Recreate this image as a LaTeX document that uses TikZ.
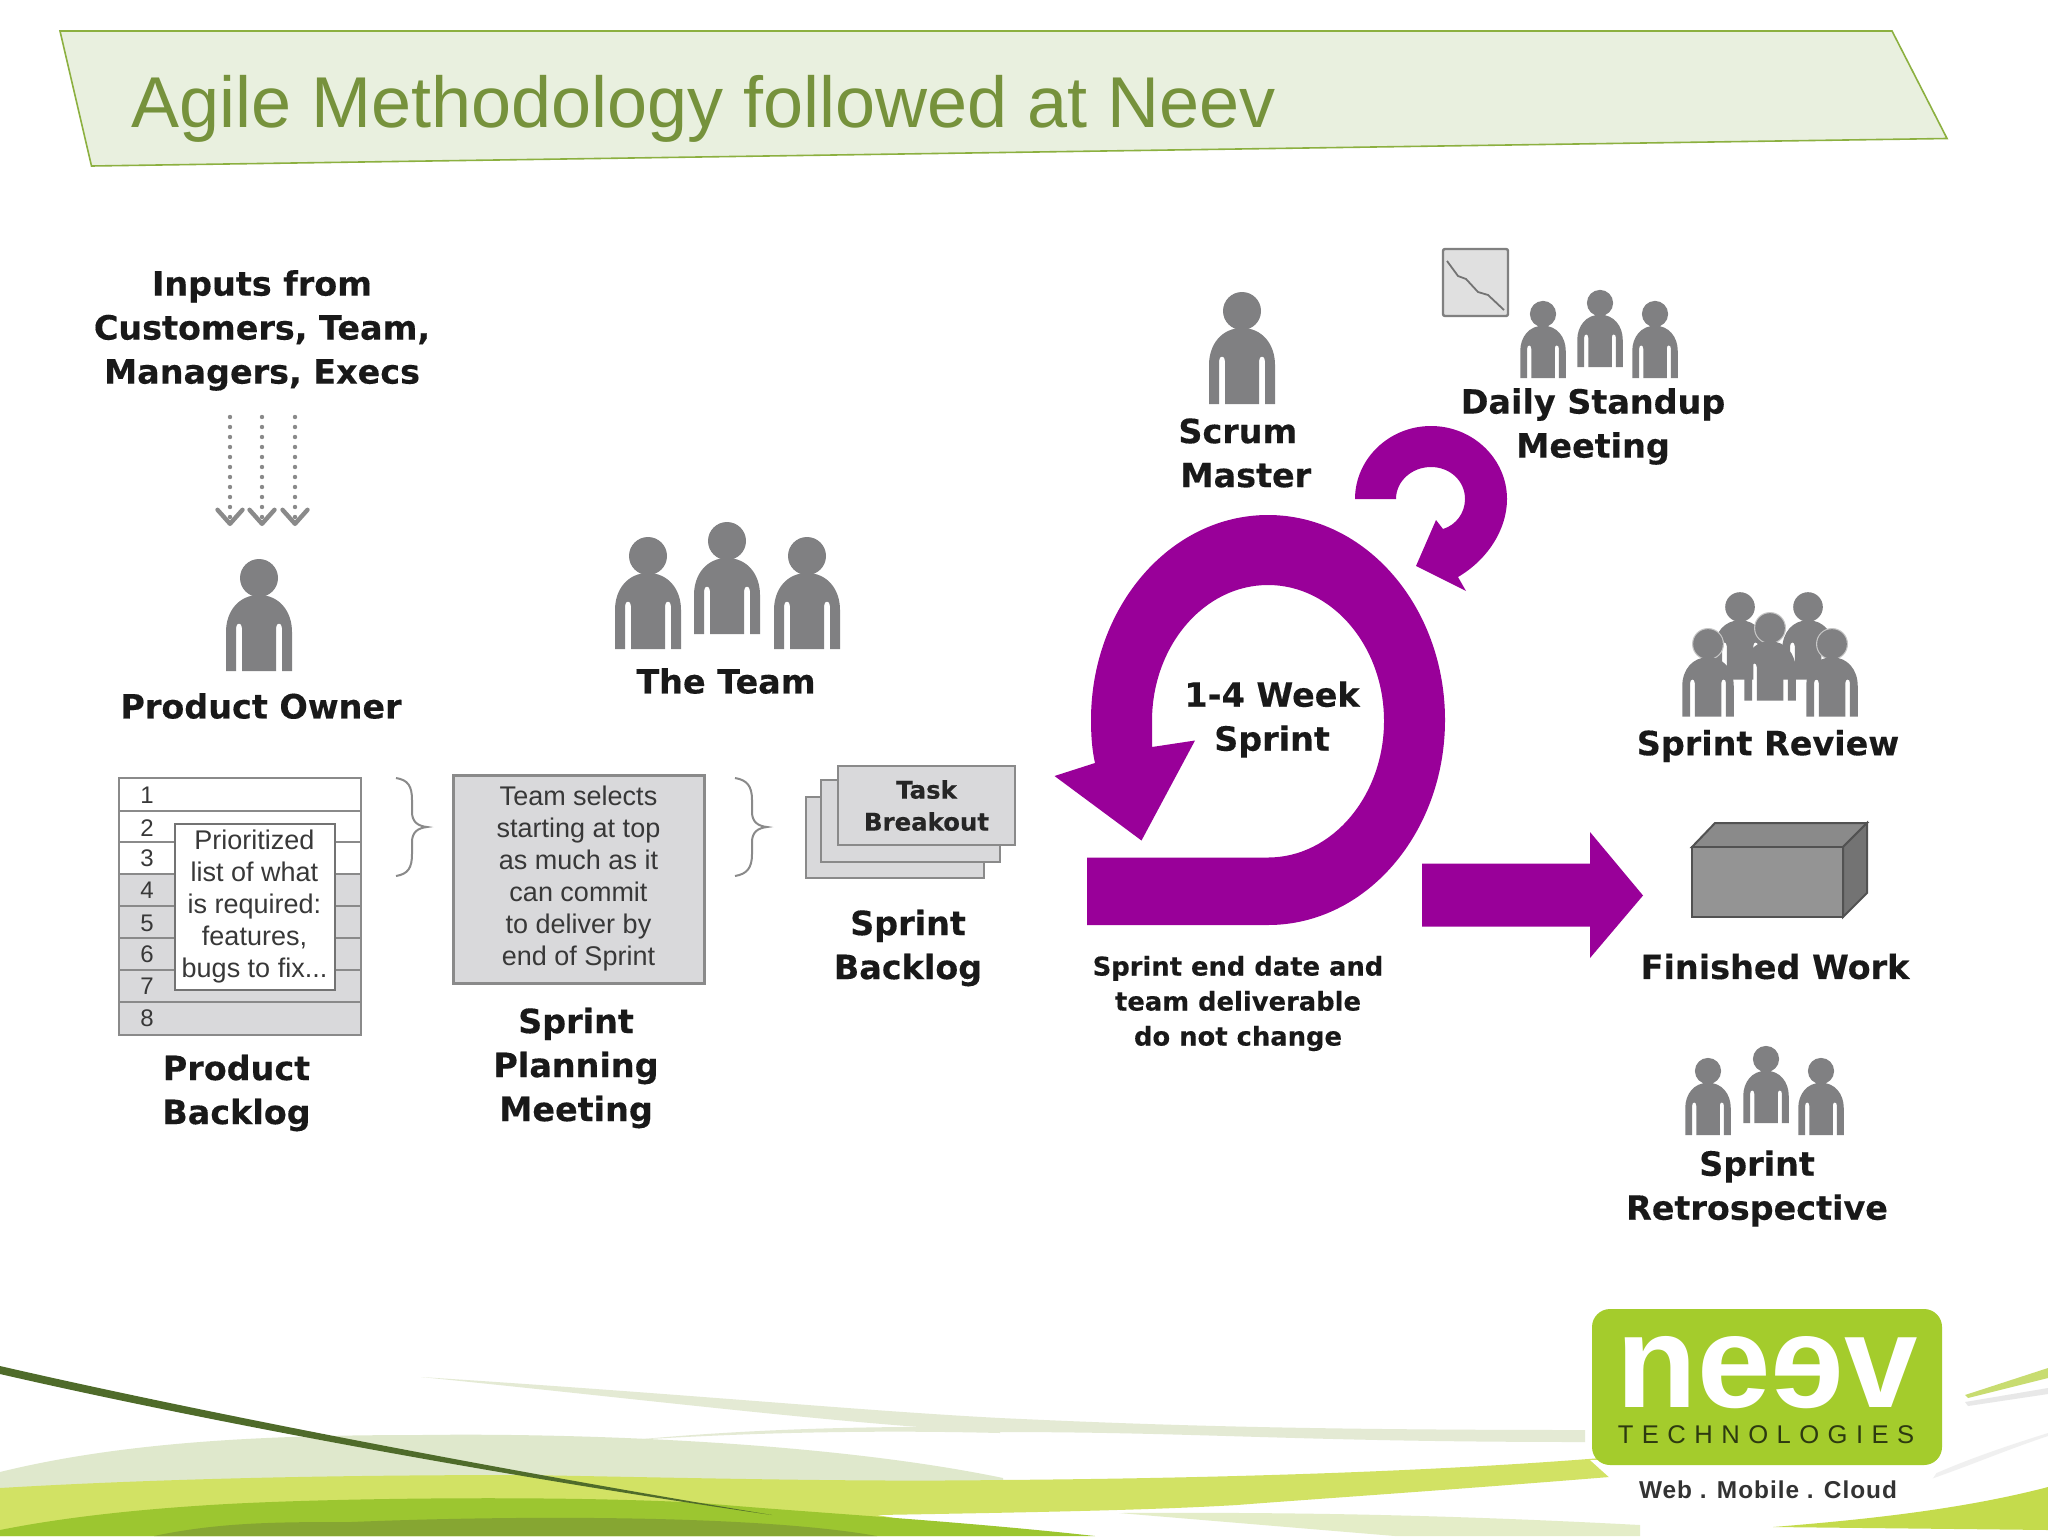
\documentclass[tikz,border=0pt]{standalone}
\usepackage{fontspec}
\usetikzlibrary{arrows.meta}
\setmainfont{Liberation Sans}
\newfontfamily\lblf[BoldFeatures={FakeBold=0.3}]{DejaVu Sans}
\newfontfamily\techf[LetterSpace=33]{Liberation Sans}
\newfontfamily\webf[LetterSpace=4]{Liberation Sans}
\definecolor{purp}{HTML}{990099}
\definecolor{pers}{HTML}{808082}
\definecolor{boxg}{HTML}{D9D9DB}
\definecolor{lineg}{HTML}{8A8A8A}
\definecolor{titleg}{HTML}{76923C}
\definecolor{titlebg}{HTML}{E9F0DF}
\definecolor{titleln}{HTML}{8CB040}
\definecolor{hill}{HTML}{DFE8CC}
\definecolor{wisp}{HTML}{E4EAD4}
\definecolor{bandy}{HTML}{D2E264}
\definecolor{bandm}{HTML}{9CC630}
\definecolor{bandd}{HTML}{86A632}
\definecolor{darkln}{HTML}{4F6B2A}
\definecolor{wedge}{HTML}{C4DB4C}
\definecolor{wedgeb}{HTML}{C8DC70}
\definecolor{palebot}{HTML}{E4EDC8}
\definecolor{logog}{HTML}{A4CC2C}
\definecolor{logotx}{HTML}{2D3A10}
\tikzset{
  x=0.5pt,y=-0.5pt,
  person/.pic={
    \fill[pers] (0,0) circle (19);
    \fill[pers] (-33,93) -- (-33,54) .. controls (-33,33) and (-20,17) .. (0,17)
      .. controls (20,17) and (33,33) .. (33,54) -- (33,93) -- (23,93) -- (23,50)
      .. controls (23,44) and (17,44) .. (17,50) -- (17,93) -- (-17,93) -- (-17,50)
      .. controls (-17,44) and (-23,44) .. (-23,50) -- (-23,93) -- cycle;
  },
  lbl/.style={font=\lblf\bfseries\fontsize{16.7}{22}\selectfont,align=center,text=black!90,inner sep=0pt},
  small/.style={font=\fontsize{12}{16}\selectfont,text=black!78,inner sep=0pt},
  smalltext/.style={font=\fontsize{13.5}{16}\selectfont,text=black!78,align=center,inner sep=0pt},
  roww/.style={fill=white,draw=lineg,line width=1.3pt},
  rowg/.style={fill=boxg,draw=lineg,line width=1.3pt},
  dotarrow/.style={draw=lineg,line width=2.2pt,line cap=round,dash pattern=on 0pt off 5pt,
    -{Straight Barb[length=7pt,width=12.5pt,line width=2.2pt,round]}},
  bracecurve/.style={draw=lineg,line width=1pt},
}
\begin{document}
\begin{tikzpicture}
\useasboundingbox (0,0) rectangle (2048,1536);
\fill[white] (0,0) rectangle (2048,1536);
% bottom swoosh
\fill[palebot] (1119,1513) .. controls (1300,1512) and (1450,1515) .. (1640,1525) -- (1640,1536) -- (1395,1536) -- cycle;
\fill[wisp] (421,1377) .. controls (700,1395) and (850,1410) .. (1000,1418) .. controls (1150,1425) and (1300,1430) .. (1585,1430) -- (1585,1442) .. controls (1300,1442) and (1200,1432) .. (1000,1432) .. controls (850,1425) and (650,1400) .. (421,1377) -- cycle;
\fill[wisp] (632,1440) .. controls (760,1428) and (880,1426) .. (1000,1427) -- (1000,1433) .. controls (880,1430) and (760,1432) .. (632,1440) -- cycle;
\fill[hill] (0,1472) .. controls (130,1440) and (280,1435) .. (421,1435) .. controls (560,1433) and (820,1440) .. (1003,1478) -- (1003,1500) -- (0,1500) -- cycle;
\fill[bandy] (0,1488) .. controls (170,1478) and (350,1475) .. (526,1475) .. controls (700,1478) and (850,1482) .. (1000,1480) .. controls (1250,1478) and (1450,1470) .. (1601,1458) -- (1609,1477) .. controls (1450,1490) and (1300,1500) .. (1237,1505) .. controls (1150,1510) and (1050,1512) .. (877,1515) -- (1000,1536) -- (0,1536) -- cycle;
\fill[bandm] (0,1530) .. controls (60,1518) and (130,1510) .. (210,1505) .. controls (320,1498) and (560,1495) .. (702,1503) .. controls (800,1512) and (950,1520) .. (1095,1536) -- (0,1536) -- cycle;
\fill[bandd] (154,1536) .. controls (220,1522) and (280,1522) .. (351,1522) .. controls (520,1515) and (760,1515) .. (877,1536) -- cycle;
\fill[darkln] (0,1366) .. controls (200,1412) and (500,1470) .. (772,1515) .. controls (500,1476) and (200,1420) .. (0,1374) -- cycle;
\fill[wedge] (1773,1527) .. controls (1860,1520) and (1960,1510) .. (2048,1487) -- (2048,1530) -- cycle;
\fill[wedgeb] (1965,1395) -- (2048,1368) -- (2048,1378) -- (1968,1398) -- cycle;
\fill[black!9] (1965,1402) -- (2048,1388) -- (2048,1394) -- (1968,1406) -- cycle;
\fill[black!6] (1907,1487) .. controls (1950,1465) and (2000,1448) .. (2048,1433) -- (2048,1436) .. controls (2000,1452) and (1960,1470) .. (1907,1487) -- cycle;
% logo
\fill[white] (1590,1460) -- (1945,1460) -- (1925,1490) .. controls (1880,1515) and (1700,1520) .. (1640,1505) -- cycle;
\node[fill=logog,rounded corners=9pt,minimum width=175pt,minimum height=78pt,inner sep=0pt] (logobox) at (1767,1387) {};
\node[font=\bfseries\fontsize{66}{66}\selectfont,text=white,inner sep=0pt,anchor=base] (logoname) at (1767,1407) {ne\reflectbox{e}v};
\node[font=\techf\fontsize{12.8}{13}\selectfont,text=logotx,inner sep=0pt,anchor=base] (logotech) at (1766,1443) {TECHNOLOGIES};
\node[font=\webf\bfseries\fontsize{12.2}{12}\selectfont,text=black!80,inner sep=0pt,anchor=base] (logoweb) at (1768,1498) {Web . Mobile . Cloud};
% title
\path[fill=titlebg,draw=titleln,line width=0.8pt]
  (60,31) -- (1892,31) -- (1947,138.5) -- (91.5,166) -- cycle;
\node[font=\fontsize{36}{40}\selectfont,text=titleg,inner sep=0pt,anchor=base west] (title) at (131,127) {Agile Methodology followed at Neev};
% inputs
\node[lbl] (inputs) at (262,330.5) {Inputs from\\Customers, Team,\\Managers, Execs};
\coordinate (a1s) at (230,417); \coordinate (a1e) at (230,526);
\coordinate (a2s) at (262,417); \coordinate (a2e) at (262,526);
\coordinate (a3s) at (295,417); \coordinate (a3e) at (295,526);
\draw[dotarrow] (a1s) -- (a1e);
\draw[dotarrow] (a2s) -- (a2e);
\draw[dotarrow] (a3s) -- (a3e);
\pic (po) at (259,578) {person};
\node[lbl] (powner) at (261,706) {Product Owner};
% backlog table
\path[roww] (119,778) rectangle (361,811);
\path[roww] (119,811) rectangle (361,842);
\path[roww] (119,842) rectangle (361,874);
\path[rowg] (119,874) rectangle (361,906);
\path[rowg] (119,906) rectangle (361,938);
\path[rowg] (119,938) rectangle (361,970);
\path[rowg] (119,970) rectangle (361,1002);
\path[rowg] (119,1002) rectangle (361,1035);
\foreach \n/\yy in {1/795,2/828,3/858,4/890,5/923,6/954,7/986,8/1018}
  \node[small] (row\n) at (147,\yy) {\n};
\node[smalltext,fill=white,draw=black!55,line width=1pt,minimum width=80pt,minimum height=83pt] (callout) at (254.5,906.5)
  {Prioritized\\list of what\\is required:\\features,\\bugs to fix...};
\node[lbl] (pbl) at (236.5,1093) {Product\\Backlog};
% braces
\coordinate (b1a) at (396,778); \coordinate (b1t) at (427,827); \coordinate (b1b) at (396,876);
\draw[bracecurve] (b1a) .. controls (408,780) and (412,786) .. (412,800) -- (412,812) .. controls (412,822) and (418,826) .. (b1t)
  .. controls (418,828) and (412,832) .. (412,842) -- (412,854) .. controls (412,868) and (408,874) .. (b1b);
\coordinate (b2a) at (735,778); \coordinate (b2t) at (767,827); \coordinate (b2b) at (735,876);
\draw[bracecurve] (b2a) .. controls (747,780) and (752,786) .. (752,800) -- (752,812) .. controls (752,822) and (758,826) .. (b2t)
  .. controls (758,828) and (752,832) .. (752,842) -- (752,854) .. controls (752,868) and (747,874) .. (b2b);
% planning
\node[smalltext,fill=boxg,draw=lineg,line width=1.5pt,minimum width=125.5pt,minimum height=104pt] (plan) at (578.5,879)
  {Team selects\\starting at top\\as much as it\\can commit\\to deliver by\\end of Sprint};
\node[lbl] (spm) at (576,1068) {Sprint\\Planning\\Meeting};
% stack
\path[rowg,line width=1pt] (806,797) rectangle (984,878);
\path[rowg,line width=1pt] (821,780) rectangle (1000,862);
\node[fill=boxg,draw=lineg,line width=1.1pt,minimum width=88.5pt,minimum height=39.5pt,inner sep=0pt,align=center,font=\lblf\bfseries\fontsize{12.2}{16}\selectfont,text=black!85] (task) at (926.5,805.5) {Task\\Breakout};
\node[lbl] (sbl) at (908,948) {Sprint\\Backlog};
% team
\pic (t1) at (648,556) {person};
\pic (t2) at (727,541) {person};
\pic (t3) at (807,556) {person};
\node[lbl] (team) at (726,681) {The Team};
% scrum master
\pic (sm) at (1242,311) {person};
\node[lbl,align=left,anchor=west] (scrum) at (1178,453) {Scrum\\\hspace{1pt}Master};
% standup
\path[fill=black!12,draw=black!50,line width=1.2pt,rounded corners=1pt] (1443,249) rectangle (1508,316);
\coordinate (cs) at (1447,261); \coordinate (ce) at (1504,310);
\draw[black!55,line width=0.9pt] (cs) -- (1458,276) -- (1466,279) -- (1478,292) -- (1488,295) -- (ce);
\pic[scale=.69] (d1) at (1543,314) {person};
\pic[scale=.69] (d2) at (1600,303) {person};
\pic[scale=.69] (d3) at (1655,314) {person};
\node[lbl] (daily) at (1593,426.5) {Daily Standup\\Meeting};
% purple loops
\fill[purp] (1355,499) .. controls (1355,459) and (1389,426) .. (1431,426)
  .. controls (1473,426) and (1507,459) .. (1507,499)
  .. controls (1507,530) and (1487,560) .. (1458,577) -- (1466,591) -- (1416,566) -- (1436,520) -- (1443,529)
  .. controls (1456,525) and (1465,513) .. (1465,499)
  .. controls (1465,481) and (1450,467) .. (1431,467)
  .. controls (1412,467) and (1396,481) .. (1396,499) -- cycle;
\fill[purp] (1087,857.5) -- (1087,925) -- (1268,925)
  .. controls (1366,925) and (1445,833) .. (1445,720)
  .. controls (1445,607) and (1366,515) .. (1268,515)
  .. controls (1170,515) and (1091,607) .. (1091,720)
  .. controls (1091,735) and (1092,750) .. (1095,763)
  -- (1054.5,776) -- (1141.5,840.5) -- (1195,740.5) -- (1152,747)
  .. controls (1152,738) and (1152,729) .. (1152,721)
  .. controls (1152,646) and (1204,585) .. (1268,585)
  .. controls (1332,585) and (1384,646) .. (1384,721)
  .. controls (1384,796) and (1332,857.5) .. (1268,857.5) -- cycle;
\node[lbl] (week) at (1272,719.5) {1-4 Week\\Sprint};
\node[lbl,font=\lblf\bfseries\fontsize{12.9}{17.5}\selectfont] (enddate) at (1238,1003.5) {Sprint end date and\\team deliverable\\do not change};
\fill[purp] (1422,863.5) -- (1590,863.5) -- (1590,832) -- (1643,895.5) -- (1590,958) -- (1590,926.5) -- (1422,926.5) -- cycle;
% review
\pic[scale=.78] (r1) at (1740,607) {person};
\pic[scale=.78] (r2) at (1808,607) {person};
\fill[black!22] (1770,628) circle (16);
\pic[scale=.78] (r3) at (1770,628) {person};
\fill[black!22] (1708,644) circle (16);
\fill[black!22] (1832,644) circle (16);
\pic[scale=.78] (r4) at (1708,644) {person};
\pic[scale=.78] (r5) at (1832,644) {person};
\node[lbl] (review) at (1768,746) {Sprint Review};
% box
\path[fill=black!46,draw=black!68,line width=1pt] (1692,847) -- (1715,823) -- (1867,823) -- (1843,847) -- cycle;
\path[fill=black!55,draw=black!68,line width=1pt] (1843,847) -- (1867,823) -- (1867,893) -- (1843,917) -- cycle;
\node[fill=black!42,draw=black!68,line width=1pt,minimum width=75.5pt,minimum height=35pt,inner sep=0pt] (fwbox) at (1767.5,882) {};
\node[lbl] (fw) at (1775,966.5) {Finished Work};
% retrospective
\pic[scale=.69] (s1) at (1708,1071) {person};
\pic[scale=.69] (s2) at (1766,1059) {person};
\pic[scale=.69] (s3) at (1821,1071) {person};
\node[lbl] (retro) at (1757,1188.5) {Sprint\\Retrospective};
\end{tikzpicture}
\end{document}
